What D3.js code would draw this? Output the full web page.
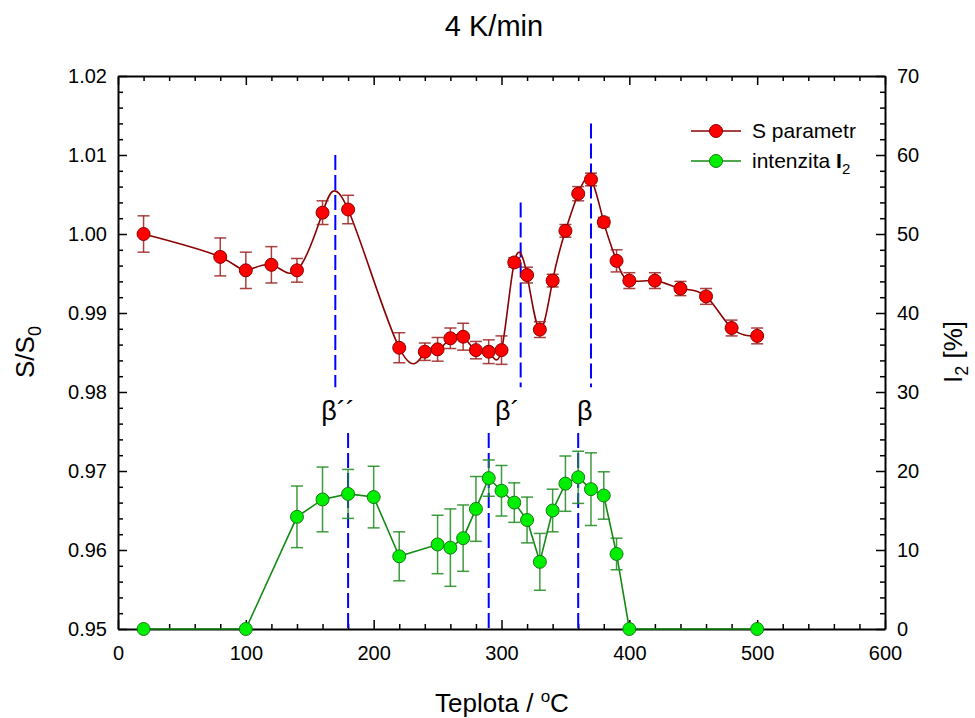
<!DOCTYPE html>
<html>
<head>
<meta charset="utf-8">
<script src="https://cdn.jsdelivr.net/npm/d3@7"></script>
<style>
  body { margin: 0; background: #fff; }
  svg { display: block; }
  text { font-family: "Liberation Sans", Arial, sans-serif; fill: #000; }
</style>
</head>
<body>
<svg id="chart" width="975" height="718"></svg>
<script>
// S parameter (normalised) vs. annealing temperature
const sTemps  = [20, 80, 100, 120, 140, 160, 180, 220, 240, 250, 260, 270, 280, 290, 300,
                 310, 320, 330, 340, 350, 360, 370, 380, 390, 400, 420, 440, 460, 480, 500];
const sValues = [1.0000, 0.9971, 0.9954, 0.9961, 0.9954, 1.0027, 1.0031, 0.9856, 0.9851, 0.9854,
                 0.9868, 0.9870, 0.9853, 0.9851, 0.9853, 0.9964, 0.9948, 0.9879, 0.9941, 1.0004,
                 1.0051, 1.0069, 1.0015, 0.9966, 0.9941, 0.9941, 0.9931, 0.9921, 0.9881, 0.9871];
const sErrors = [0.0023, 0.0024, 0.0023, 0.0023, 0.0015, 0.0015, 0.0018, 0.0019, 0.0011, 0.0015,
                 0.0013, 0.0017, 0.0011, 0.0015, 0.0018, 0.0006, 0.0010, 0.0010, 0.0008, 0.0008,
                 0.0009, 0.0008, 0.0006, 0.0014, 0.0010, 0.0010, 0.0009, 0.0010, 0.0010, 0.0010];

// Intensity of the second lifetime component I2 [%]
const iTemps  = [20, 100, 140, 160, 180, 200, 220, 250, 260, 270, 280, 290, 300, 310, 320,
                 330, 340, 350, 360, 370, 380, 390, 400, 500];
const iValues = [0, 0, 14.2, 16.4, 17.1, 16.7, 9.2, 10.7, 10.3, 11.5, 15.2, 19.1, 17.5, 16.0, 13.8,
                 8.5, 15.0, 18.4, 19.2, 17.7, 16.9, 9.5, 0, 0];
const iErrors = [0, 0, 3.9, 4.1, 3.1, 3.9, 3.1, 3.7, 4.9, 4.2, 4.1, 2.3, 3.2, 2.5, 2.9,
                 3.6, 2.7, 3.5, 3.3, 4.6, 3.0, 2.0, 0, 0];

// Precipitation stages marked with dashed guides
const stageLabels = ["β´´", "β´", "β"];
const stageLabelAt = [159, 295, 359];
const sGuideTemps = [170, 315, 370];
const sGuideTops  = [1.010, 1.004, 1.014];
const sGuideBottom = 0.9806;
const iGuideTemps = [180, 290, 360];
const iGuideTop = 24.8;

// Axis ticks
const xMajor = [0, 100, 200, 300, 400, 500, 600];
const sMajor = [0.95, 0.96, 0.97, 0.98, 0.99, 1.00, 1.01, 1.02];
const iMajor = [0, 10, 20, 30, 40, 50, 60, 70];

const svg = d3.select("#chart");
const plotL = 118, plotR = 885, plotT = 76, plotB = 629;

const x  = d3.scaleLinear().domain([0, 600]).range([plotL, plotR]);
const yS = d3.scaleLinear().domain([0.95, 1.02]).range([plotB, plotT]);
const yI = d3.scaleLinear().domain([0, 70]).range([plotB, plotT]);

// ---------- axes ----------
function styleAxis(g, width) {
  g.select(".domain").attr("stroke", "#000").attr("stroke-width", width);
  g.selectAll(".tick line").attr("stroke", "#000").attr("stroke-width", 1.5);
  g.selectAll(".tick text").attr("font-size", 20).attr("fill", "#000")
    .attr("font-family", "Liberation Sans, Arial, sans-serif");
}
const minorX = d3.range(0, 601, 20).filter(v => v % 100 !== 0);
const minorS = d3.range(0, 36).map(i => 0.95 + i * 0.002).filter((v, i) => i % 5 !== 0);
const minorI = d3.range(0, 71, 2).filter(v => v % 10 !== 0);

// minor ticks
svg.append("g").attr("transform", `translate(0,${plotB})`)
  .call(d3.axisBottom(x).tickValues(minorX).tickSize(-5).tickFormat("").tickSizeOuter(0))
  .call(g => { styleAxis(g, 2); g.select(".domain").remove(); });
svg.append("g").attr("transform", `translate(0,${plotT})`)
  .call(d3.axisTop(x).tickValues(minorX).tickSize(-5).tickFormat("").tickSizeOuter(0))
  .call(g => { styleAxis(g, 2); g.select(".domain").remove(); });
svg.append("g").attr("transform", `translate(${plotL},0)`)
  .call(d3.axisLeft(yS).tickValues(minorS).tickSize(-5).tickFormat("").tickSizeOuter(0))
  .call(g => { styleAxis(g, 2); g.select(".domain").remove(); });
svg.append("g").attr("transform", `translate(${plotR},0)`)
  .call(d3.axisRight(yI).tickValues(minorI).tickSize(-5).tickFormat("").tickSizeOuter(0))
  .call(g => { styleAxis(g, 2); g.select(".domain").remove(); });

// major ticks with labels, plus the frame
svg.append("g").attr("transform", `translate(0,${plotB})`)
  .call(d3.axisBottom(x).tickValues(xMajor).tickSize(-9).tickPadding(17).tickSizeOuter(0).tickFormat(d3.format("d")))
  .call(g => styleAxis(g, 2));
svg.append("g").attr("transform", `translate(0,${plotT})`)
  .call(d3.axisTop(x).tickValues(xMajor).tickSize(-9).tickFormat("").tickSizeOuter(0))
  .call(g => styleAxis(g, 2));
svg.append("g").attr("transform", `translate(${plotL},0)`)
  .call(d3.axisLeft(yS).tickValues(sMajor).tickSize(-9).tickPadding(11).tickSizeOuter(0).tickFormat(d3.format(".2f")))
  .call(g => styleAxis(g, 2));
svg.append("g").attr("transform", `translate(${plotR},0)`)
  .call(d3.axisRight(yI).tickValues(iMajor).tickSize(-9).tickPadding(12).tickSizeOuter(0).tickFormat(d3.format("d")))
  .call(g => styleAxis(g, 2));

// ---------- dashed stage guides ----------
const guides = svg.append("g").attr("stroke", "#0000ff").attr("stroke-width", 2)
  .attr("stroke-dasharray", "15,5").attr("fill", "none");
sGuideTemps.forEach((t, i) => {
  guides.append("line").attr("x1", x(t)).attr("x2", x(t))
    .attr("y1", yS(sGuideTops[i])).attr("y2", yS(sGuideBottom));
});
iGuideTemps.forEach(t => {
  guides.append("line").attr("x1", x(t)).attr("x2", x(t))
    .attr("y1", yI(iGuideTop)).attr("y2", yI(0));
});
stageLabels.forEach((s, i) => {
  svg.append("text").attr("x", x(stageLabelAt[i])).attr("y", 420)
    .attr("font-size", 27).text(s);
});

// ---------- S parameter: smooth spline through the points ----------
const sData = sTemps.map((t, i) => ({ t, v: sValues[i], e: sErrors[i] }));
svg.append("path").datum(sData)
  .attr("fill", "none").attr("stroke", "#8b0000").attr("stroke-width", 1.6)
  .attr("d", d3.line().x(d => x(d.t)).y(d => yS(d.v)).curve(d3.curveNatural));

// ---------- I2: straight segments ----------
const iData = iTemps.map((t, i) => ({ t, v: iValues[i], e: iErrors[i] }));
svg.append("path").datum(iData)
  .attr("fill", "none").attr("stroke", "#138a13").attr("stroke-width", 1.6)
  .attr("d", d3.line().x(d => x(d.t)).y(d => yI(d.v)));

// ---------- error bars ----------
function errorBars(data, yScale, color) {
  const g = svg.append("g").attr("stroke", color).attr("stroke-width", 1.5)
    .attr("stroke-opacity", 0.85);
  data.filter(d => d.e > 0).forEach(d => {
    const cx = x(d.t), y1 = yScale(d.v - d.e), y2 = yScale(d.v + d.e);
    g.append("line").attr("x1", cx).attr("x2", cx).attr("y1", y1).attr("y2", y2);
    g.append("line").attr("x1", cx - 6).attr("x2", cx + 6).attr("y1", y1).attr("y2", y1);
    g.append("line").attr("x1", cx - 6).attr("x2", cx + 6).attr("y1", y2).attr("y2", y2);
  });
}
errorBars(sData, yS, "#9b2020");
errorBars(iData, yI, "#1d8a1d");

// ---------- markers ----------
svg.append("g").selectAll("circle").data(sData).join("circle")
  .attr("cx", d => x(d.t)).attr("cy", d => yS(d.v)).attr("r", 6.5)
  .attr("fill", "#ff0000").attr("stroke", "#8b0000").attr("stroke-width", 1);
svg.append("g").selectAll("circle").data(iData).join("circle")
  .attr("cx", d => x(d.t)).attr("cy", d => yI(d.v)).attr("r", 6.5)
  .attr("fill", "#00ee00").attr("stroke", "#1a7a1a").attr("stroke-width", 1);

// ---------- legend ----------
const legend = svg.append("g");
[["S parametr", "#8b0000", "#ff0000", "#8b0000"], ["intenzita ", "#138a13", "#00ee00", "#1a7a1a"]]
  .forEach((row, i) => {
    const ly = 131 + i * 30;
    legend.append("line").attr("x1", 691).attr("x2", 741).attr("y1", ly).attr("y2", ly)
      .attr("stroke", row[1]).attr("stroke-width", 1.6);
    legend.append("circle").attr("cx", 716).attr("cy", ly).attr("r", 6.5)
      .attr("fill", row[2]).attr("stroke", row[3]);
    const t = legend.append("text").attr("x", 752).attr("y", ly + 7).attr("font-size", 21).text(row[0]);
    if (i === 1) {
      t.append("tspan").attr("font-weight", "bold").text("I");
      t.append("tspan").attr("font-size", 15).attr("dy", 6).text("2");
    }
  });

// ---------- titles ----------
svg.append("text").attr("x", 494).attr("y", 36).attr("text-anchor", "middle")
  .attr("font-size", 29).text("4 K/min");

const xl = svg.append("text").attr("x", 502).attr("y", 712).attr("text-anchor", "middle")
  .attr("font-size", 26).text("Teplota / ");
xl.append("tspan").attr("font-size", 17).attr("dy", -10).text("o");
xl.append("tspan").attr("dy", 10).text("C");

const yl = svg.append("text").attr("transform", `translate(34,352) rotate(-90)`)
  .attr("text-anchor", "middle").attr("font-size", 26).text("S/S");
yl.append("tspan").attr("font-size", 18).attr("dy", 7).text("0");

const yr = svg.append("text").attr("transform", `translate(962,352) rotate(-90)`)
  .attr("text-anchor", "middle").attr("font-size", 26).text("I");
yr.append("tspan").attr("font-size", 18).attr("dy", 6).text("2");
yr.append("tspan").attr("dy", -6).text(" [%]");
</script>
</body>
</html>
